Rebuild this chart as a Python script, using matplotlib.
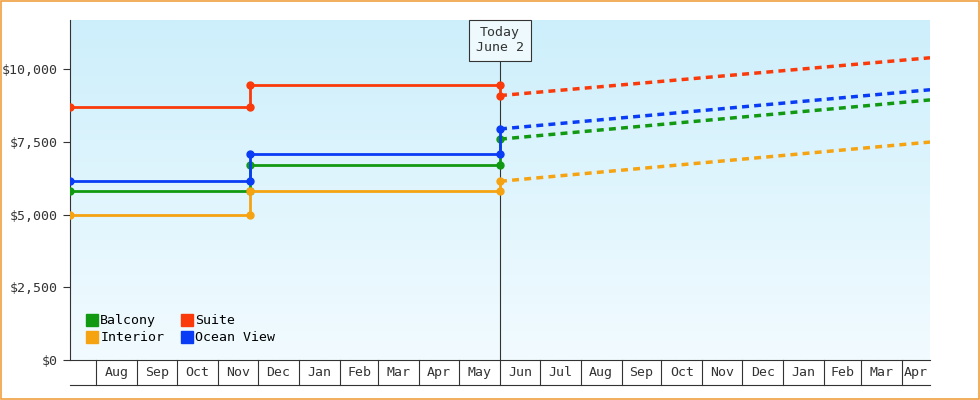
import matplotlib
matplotlib.use("Agg")
import matplotlib.pyplot as plt
import matplotlib.dates as mdates
import numpy as np
from datetime import date
from matplotlib.colors import LinearSegmentedColormap

series = ["Balcony", "Interior", "Suite", "Ocean View"]
colors = ["#129912", "#f6a312", "#fa3a0a", "#0a3cf5"]
before = [5800, 5000, 8700, 6150]
after = [6700, 5800, 9450, 7100]
fc_start = [7600, 6150, 9100, 7950]
fc_end = [8950, 7500, 10400, 9300]
d_start = date(2023, 7, 12)
d_step = date(2023, 11, 25)
d_today = date(2024, 6, 1)
d_end = date(2025, 4, 22)
month_labels = ["Aug","Sep","Oct","Nov","Dec","Jan","Feb","Mar","Apr","May","Jun","Jul",
                "Aug","Sep","Oct","Nov","Dec","Jan","Feb","Mar","Apr"]
yticks = [0, 2500, 5000, 7500, 10000]

plt.rcParams['font.family'] = ['DejaVu Sans Mono']
fig = plt.figure(figsize=(9.8, 4), dpi=100)
fig.patch.set_facecolor("white")
fig.add_artist(plt.Rectangle((0.001, 0.002), 0.998, 0.996, transform=fig.transFigure,
                             fill=False, edgecolor="#f0a040", lw=1.2))
ax = fig.add_axes([70/980, 40/400, 860/980, 340/400])
x0, x1 = mdates.date2num(d_start), mdates.date2num(d_end)
ymax = 11700
grad = np.linspace(0, 1, 256).reshape(-1, 1)
cm = LinearSegmentedColormap.from_list("g", ["#f2fbff", "#cdeffb"])
ax.imshow(grad, cmap=cm, extent=[x0, x1, ymax, 0], aspect="auto", zorder=0)
ax.set_xlim(x0, x1)
ax.set_ylim(0, ymax)

ts, tp, tt, te = [mdates.date2num(d) for d in (d_start, d_step, d_today, d_end)]
for i, name in enumerate(series):
    c = colors[i]
    ax.plot([ts, tp, tp, tt, tt], [before[i], before[i], after[i], after[i], fc_start[i]],
            color=c, lw=2, marker="o", ms=5, zorder=3)
    ax.plot([tt, te], [fc_start[i], fc_end[i]], color=c, lw=2.5, ls=(0, (2, 1.5)), zorder=3)
    ax.plot([], [], ls="none", marker="s", ms=8, color=c, label=name)

ax.axvline(tt, color="#333333", lw=0.8, zorder=2)
ax.text(tt, 11000, "Today\nJune 2", ha="center", va="center", fontsize=9.5, color="#333",
        bbox=dict(boxstyle="square,pad=0.5", fc="#eef9fd", ec="#333", lw=0.8), zorder=5)

ax.set_yticks(yticks)
ax.set_yticklabels(["$0", "$2,500", "$5,000", "$7,500", "$10,000"], fontsize=9.5, color="#333")
ax.tick_params(axis="y", length=5, color="#333")
ax.set_xticks([])
for s in ["top", "right"]:
    ax.spines[s].set_visible(False)
ax.spines["left"].set_color("#333")
ax.spines["bottom"].set_color("#333")

trans = ax.get_xaxis_transform()
bounds = [mdates.date2num(date(2023 + (7 + k) // 12, (7 + k) % 12 + 1, 1)) for k in range(21)]
bottom_y = -25/340
ax.plot([x0, x1], [bottom_y, bottom_y], transform=trans, color="#333", lw=0.8, clip_on=False)
for k, b in enumerate(bounds):
    ax.plot([b, b], [0, bottom_y], transform=trans, color="#333", lw=0.8, clip_on=False)
    nb = bounds[k+1] if k + 1 < len(bounds) else x1
    ax.text((b + nb) / 2, bottom_y / 2, month_labels[k], transform=trans, ha="center",
            va="center", fontsize=9.5, color="#333")

ax.legend(loc="lower left", ncol=2, frameon=False, fontsize=9.5, handletextpad=0.1,
          columnspacing=1.2, labelspacing=0.3, borderaxespad=0.8, handlelength=1)
fig.savefig("out.png", dpi=100)
